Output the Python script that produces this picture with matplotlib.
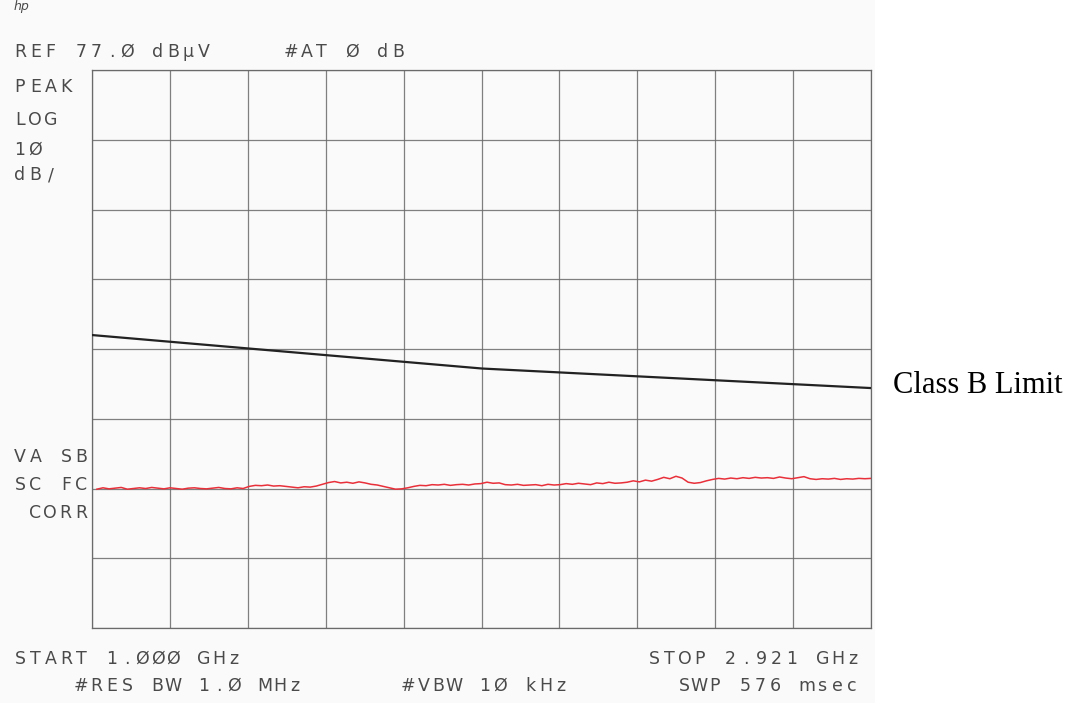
"""Spectrum-analyzer plot (1.000 - 2.921 GHz, peak, 10 dB/div) with Class B limit line."""
import numpy as np
import matplotlib
matplotlib.use("Agg")
import matplotlib.pyplot as plt
from matplotlib.patches import Rectangle

W, H = 1087, 703

# ---- data
ref_level = 77.0          # dBuV, top graticule line
db_per_div = 10.0
n_xdiv, n_ydiv = 10, 8
f_start, f_stop = 1.000, 2.921   # GHz

limit_freq_ghz = [1.000, 1.962, 2.921]
limit_dbuv = [39.0, 34.2, 31.4]

trace_f_start = 1.012
trace_dbuv = [
    16.9, 17.1, 16.95, 17.05, 17.15, 16.9, 17.0, 17.1, 17.0, 17.15,
    17.05, 16.95, 17.1, 17.0, 16.9, 17.05, 17.1, 17.0, 16.95, 17.05,
    17.15, 17.0, 16.95, 17.1, 17.0,
    17.3, 17.45, 17.4, 17.5, 17.35, 17.4, 17.3,
    17.2, 17.1, 17.25, 17.2, 17.35,
    17.6, 17.85, 18.0, 17.8, 17.9, 17.75, 17.95, 17.8,
    17.6, 17.5, 17.3, 17.1, 16.9,
    16.95, 17.1,
    17.3, 17.45, 17.4, 17.55, 17.5, 17.6, 17.45, 17.55, 17.6, 17.5, 17.65, 17.7,
    17.9, 17.75, 17.8,
    17.55, 17.5, 17.6, 17.45, 17.5, 17.55, 17.4, 17.6, 17.5, 17.55,
    17.7, 17.6, 17.75, 17.65, 17.55, 17.8, 17.7, 17.9, 17.75, 17.8,
    17.9, 18.1, 17.95, 18.2, 18.05,
    18.3, 18.6, 18.4, 18.75, 18.5,
    17.9, 17.75, 17.85, 18.1,
    18.3, 18.45, 18.35, 18.5, 18.4, 18.55, 18.45, 18.6, 18.5, 18.55,
    18.45, 18.65, 18.5, 18.4, 18.55, 18.7, 18.4,
    18.3, 18.4, 18.35, 18.45, 18.3, 18.4, 18.35, 18.45, 18.4, 18.45,
]
trace_freq_ghz = np.linspace(trace_f_start, f_stop, len(trace_dbuv))

# annotation lines printed by the analyzer: (left px, baseline px, text)
header_lines = [
    (14, 57, "REF 77.Ø dBµV"),
    (285, 57, "#AT Ø dB"),
    (14, 92, "PEAK"),
    (14, 125, "LOG"),
    (14, 155, "1Ø"),
    (14, 180, "dB/"),
    (14, 462, "VA SB"),
    (14, 490, "SC FC"),
    (29, 518, "CORR"),
    (14, 664, "START 1.ØØØ GHz"),
    (648, 664, "STOP 2.921 GHz"),
    (75, 691, "#RES BW 1.Ø MHz"),
    (402, 691, "#VBW 1Ø kHz"),
    (678, 691, "SWP 576 msec"),
]

TXT = "#4a4a4a"
GRID = "#6a6a6a"

fig = plt.figure(figsize=(W / 100, H / 100), dpi=100)
fig.patch.set_facecolor("white")
# scanned sheet is a touch off-white
fig.patches.append(Rectangle((0, 0), 875 / W, 1, transform=fig.transFigure,
                             facecolor="#fafafa", edgecolor="none", zorder=-10))

ax = fig.add_axes([92 / W, 1 - 628 / H, (871 - 92) / W, (628 - 70) / H])
ax.set_facecolor("#fafafa")
ybot = ref_level - n_ydiv * db_per_div
ax.set_xlim(f_start, f_stop)
ax.set_ylim(ybot, ref_level)
ax.set_xticks(np.linspace(f_start, f_stop, n_xdiv + 1))
ax.set_yticks(np.linspace(ybot, ref_level, n_ydiv + 1))
ax.grid(True, color=GRID, lw=0.9, alpha=0.85)
ax.tick_params(length=0, labelbottom=False, labelleft=False)
for sp in ax.spines.values():
    sp.set_color(GRID)
    sp.set_linewidth(0.9)

ax.plot(limit_freq_ghz, limit_dbuv, "-", color="#222222", lw=1.6, zorder=4)
ax.plot(trace_freq_ghz, trace_dbuv, "-", color="#e8303a", lw=1.1, zorder=5)


def plotter_text(x, y, s, pitch=15.3, size=12.5):
    # fixed-pitch plotter lettering: one glyph per cell
    for i, ch in enumerate(s):
        if ch == " ":
            continue
        fig.text((x + 6 + i * pitch) / W, 1 - y / H, ch, fontsize=size,
                 family="DejaVu Sans", color=TXT, ha="center", va="baseline")


for x, y, s in header_lines:
    plotter_text(x, y, s)

fig.text(14 / W, 1 - 10 / H, "hp", fontsize=9, style="italic", color=TXT,
         ha="left", va="baseline")

fig.text(893 / W, 1 - 393 / H, "Class B Limit", fontsize=22,
         family="Liberation Serif", color="black", ha="left", va="baseline")

fig.savefig("out.png", dpi=100)
